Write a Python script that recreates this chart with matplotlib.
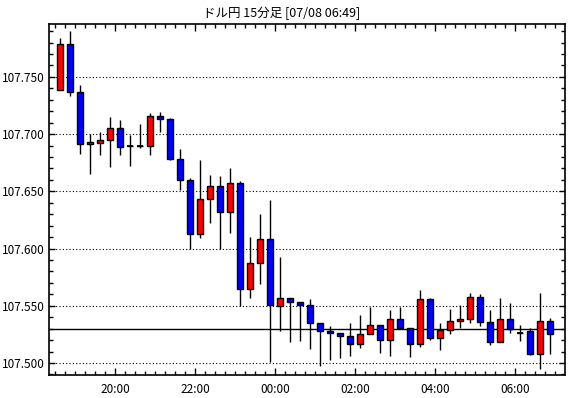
import matplotlib
matplotlib.use("Agg")
import matplotlib.pyplot as plt
from matplotlib.ticker import FixedLocator, MultipleLocator, FormatStrFormatter
import numpy as np
import pandas as pd

plt.rcParams['font.family'] = ['Noto Sans CJK JP', 'DejaVu Sans']

title = "ドル円 15分足 [07/08 06:49]"

# 15分足 OHLC (18:30 - 06:45)
opens = [107.7386, 107.779, 107.737, 107.691, 107.692, 107.695, 107.705, 107.690, 107.690, 107.690,
         107.716, 107.713, 107.678, 107.660, 107.613, 107.643, 107.655, 107.632, 107.657, 107.565,
         107.587, 107.608, 107.550, 107.557, 107.553, 107.551, 107.535, 107.528, 107.526, 107.524,
         107.517, 107.525, 107.533, 107.520, 107.538, 107.531, 107.517, 107.556, 107.522, 107.529,
         107.537, 107.538, 107.558, 107.536, 107.518, 107.538, 107.526, 107.528, 107.508, 107.537]
highs = [107.784, 107.790, 107.743, 107.700, 107.702, 107.715, 107.712, 107.699, 107.709, 107.718,
         107.719, 107.714, 107.687, 107.662, 107.677, 107.664, 107.663, 107.670, 107.659, 107.610,
         107.630, 107.642, 107.593, 107.557, 107.553, 107.556, 107.535, 107.532, 107.526, 107.535,
         107.542, 107.549, 107.533, 107.546, 107.549, 107.531, 107.564, 107.557, 107.535, 107.547,
         107.551, 107.561, 107.560, 107.546, 107.557, 107.552, 107.533, 107.531, 107.561, 107.539]
lows = [107.7386, 107.733, 107.683, 107.665, 107.682, 107.671, 107.682, 107.672, 107.688, 107.682,
        107.702, 107.677, 107.651, 107.600, 107.609, 107.622, 107.600, 107.614, 107.550, 107.557,
        107.569, 107.501, 107.528, 107.518, 107.519, 107.512, 107.497, 107.503, 107.504, 107.506,
        107.513, 107.525, 107.509, 107.506, 107.530, 107.505, 107.514, 107.520, 107.511, 107.525,
        107.531, 107.535, 107.532, 107.516, 107.518, 107.526, 107.519, 107.507, 107.495, 107.508]
closes = [107.779, 107.737, 107.691, 107.693, 107.695, 107.705, 107.689, 107.690, 107.690, 107.716,
          107.713, 107.678, 107.660, 107.613, 107.643, 107.655, 107.632, 107.657, 107.565, 107.587,
          107.608, 107.551, 107.557, 107.553, 107.551, 107.535, 107.528, 107.526, 107.524, 107.517,
          107.525, 107.533, 107.520, 107.538, 107.531, 107.517, 107.556, 107.522, 107.529, 107.537,
          107.538, 107.558, 107.536, 107.518, 107.538, 107.5295, 107.526, 107.508, 107.537, 107.525]
ref_line = 107.5295

times = pd.date_range("2020-07-07 18:30", periods=len(opens), freq="15min")

o = np.array(opens)
h = np.array(highs)
l = np.array(lows)
c = np.array(closes)
x = np.arange(len(o))

fig = plt.figure(figsize=(5.7, 3.98), dpi=100)
ax = fig.add_axes([49 / 570, 1 - 375 / 398, (565 - 49) / 570, (375 - 24) / 398])

ax.set_ylim(107.4895, 107.7962)
ax.set_xlim(-1.13, 50.47)

# grid
for yv in np.arange(107.50, 107.76, 0.05):
    ax.axhline(yv, color='black', lw=0.8, ls=(0, (1, 2)), zorder=1)
ax.axhline(ref_line, color='black', lw=1.0, zorder=1.5)

# wicks
ax.vlines(x, l, h, color='black', lw=1.0, zorder=2)

# bodies
up = c >= o
colors = np.where(up, '#FF0000', '#0000FF')
bottoms = np.minimum(o, c)
heights = np.abs(c - o)
ax.bar(x, heights, bottom=bottoms, width=0.62, color=colors, edgecolor='black', lw=1.0, zorder=3)
doji = heights < 0.0006
ax.hlines(o[doji], x[doji] - 0.31, x[doji] + 0.31, color='black', lw=1.3, zorder=4)

# ticks
major = [i - 0.5 for i, t in enumerate(times) if t.minute == 0 and t.hour % 2 == 0]
labels = [t.strftime("%H:%M") for t in times if t.minute == 0 and t.hour % 2 == 0]
ax.xaxis.set_major_locator(FixedLocator(major))
ax.set_xticklabels(labels)
ax.xaxis.set_minor_locator(FixedLocator(np.arange(-0.5, 50.5, 1.0)))
ax.yaxis.set_major_locator(MultipleLocator(0.05))
ax.yaxis.set_minor_locator(MultipleLocator(0.01))
ax.yaxis.set_major_formatter(FormatStrFormatter('%.3f'))

ax.tick_params(axis='both', which='both', direction='in', top=True, right=True, width=1.0, colors='black')
ax.tick_params(axis='x', which='major', length=5, pad=6, labelsize=8.5)
ax.tick_params(axis='x', which='minor', length=3)
ax.tick_params(axis='y', which='major', length=4, pad=3, labelsize=8.5)
ax.tick_params(axis='y', which='minor', length=3)

for s in ax.spines.values():
    s.set_linewidth(1.2)

fig.text(282 / 570, 1 - 13 / 398, title, ha='center', va='center', fontsize=9)

fig.savefig("out.png", dpi=100)
